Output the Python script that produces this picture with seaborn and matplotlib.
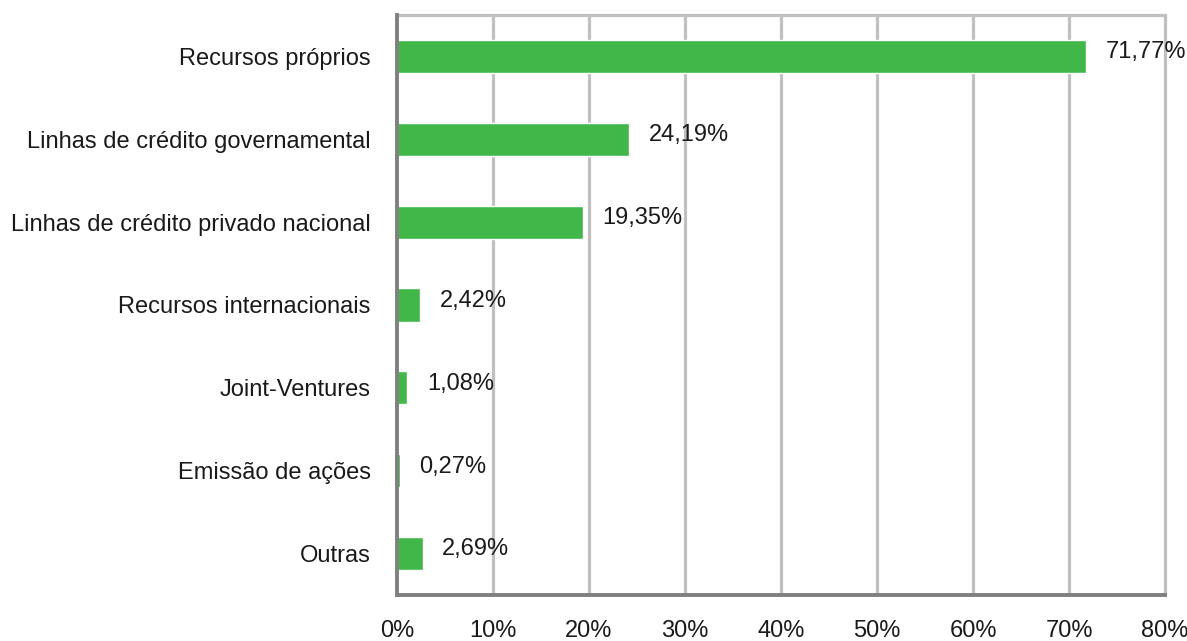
import seaborn as sns

import matplotlib
matplotlib.use("Agg")  # headless mode (no GUI)

import matplotlib.pyplot as plt

sns.set_theme(style="white")
plt.rcParams["font.family"] = ["Liberation Sans", "DejaVu Sans"]

# data
categories = [
    "Recursos próprios",
    "Linhas de crédito governamental",
    "Linhas de crédito privado nacional",
    "Recursos internacionais",
    "Joint-Ventures",
    "Emissão de ações",
    "Outras",
]
values = [71.77, 24.19, 19.35, 2.42, 1.08, 0.27, 2.69]
x_ticks = [0, 10, 20, 30, 40, 50, 60, 70, 80]

bar_color = "#41b649"
spine_color = "#808080"
grid_color = "#c0c0c0"
text_color = "#1a1a1a"
fs = 17

fig = plt.figure(figsize=(11.87, 6.41), dpi=100)
ax = fig.add_axes([0.3345, 0.0718, 0.647, 0.9048])

# gridlines behind bars (last one doubles as the right border)
for t in x_ticks[1:]:
    ax.axvline(t, color=grid_color, lw=2.3, zorder=0, clip_on=False)

sns.barplot(x=values, y=categories, color=bar_color, width=0.4,
            saturation=1, orient="h", ax=ax, zorder=2)

ax.set_xlim(0, 80)
ax.set_ylim(6.5, -0.5)
ax.set_xticks(x_ticks)
ax.set_xticklabels([f"{t}%" for t in x_ticks], fontsize=fs)
ax.tick_params(axis="y", which="major", length=0, labelsize=fs, pad=19)
ax.set_yticks([i - 0.5 for i in range(len(categories) + 1)], minor=True)
ax.tick_params(axis="y", which="minor", length=7, width=2.8, color=spine_color)
ax.tick_params(axis="x", which="major", length=7, width=2.8, color=spine_color,
               labelsize=fs, pad=11)
ax.set_xlabel("")
ax.set_ylabel("")

for side in ["left", "bottom"]:
    ax.spines[side].set_color(spine_color)
    ax.spines[side].set_linewidth(2.8)
    ax.spines[side].set_zorder(3)
ax.spines["top"].set_color(grid_color)
ax.spines["top"].set_linewidth(2.3)
ax.spines["right"].set_visible(False)

for i, v in enumerate(values):
    ax.annotate(f"{v:.2f}%".replace(".", ","), xy=(v, i), xytext=(14, 3),
                textcoords="offset points", va="center", ha="left",
                fontsize=fs, color=text_color)

for lab in ax.get_yticklabels() + ax.get_xticklabels():
    lab.set_color(text_color)

fig.savefig("out.png", dpi=100)
